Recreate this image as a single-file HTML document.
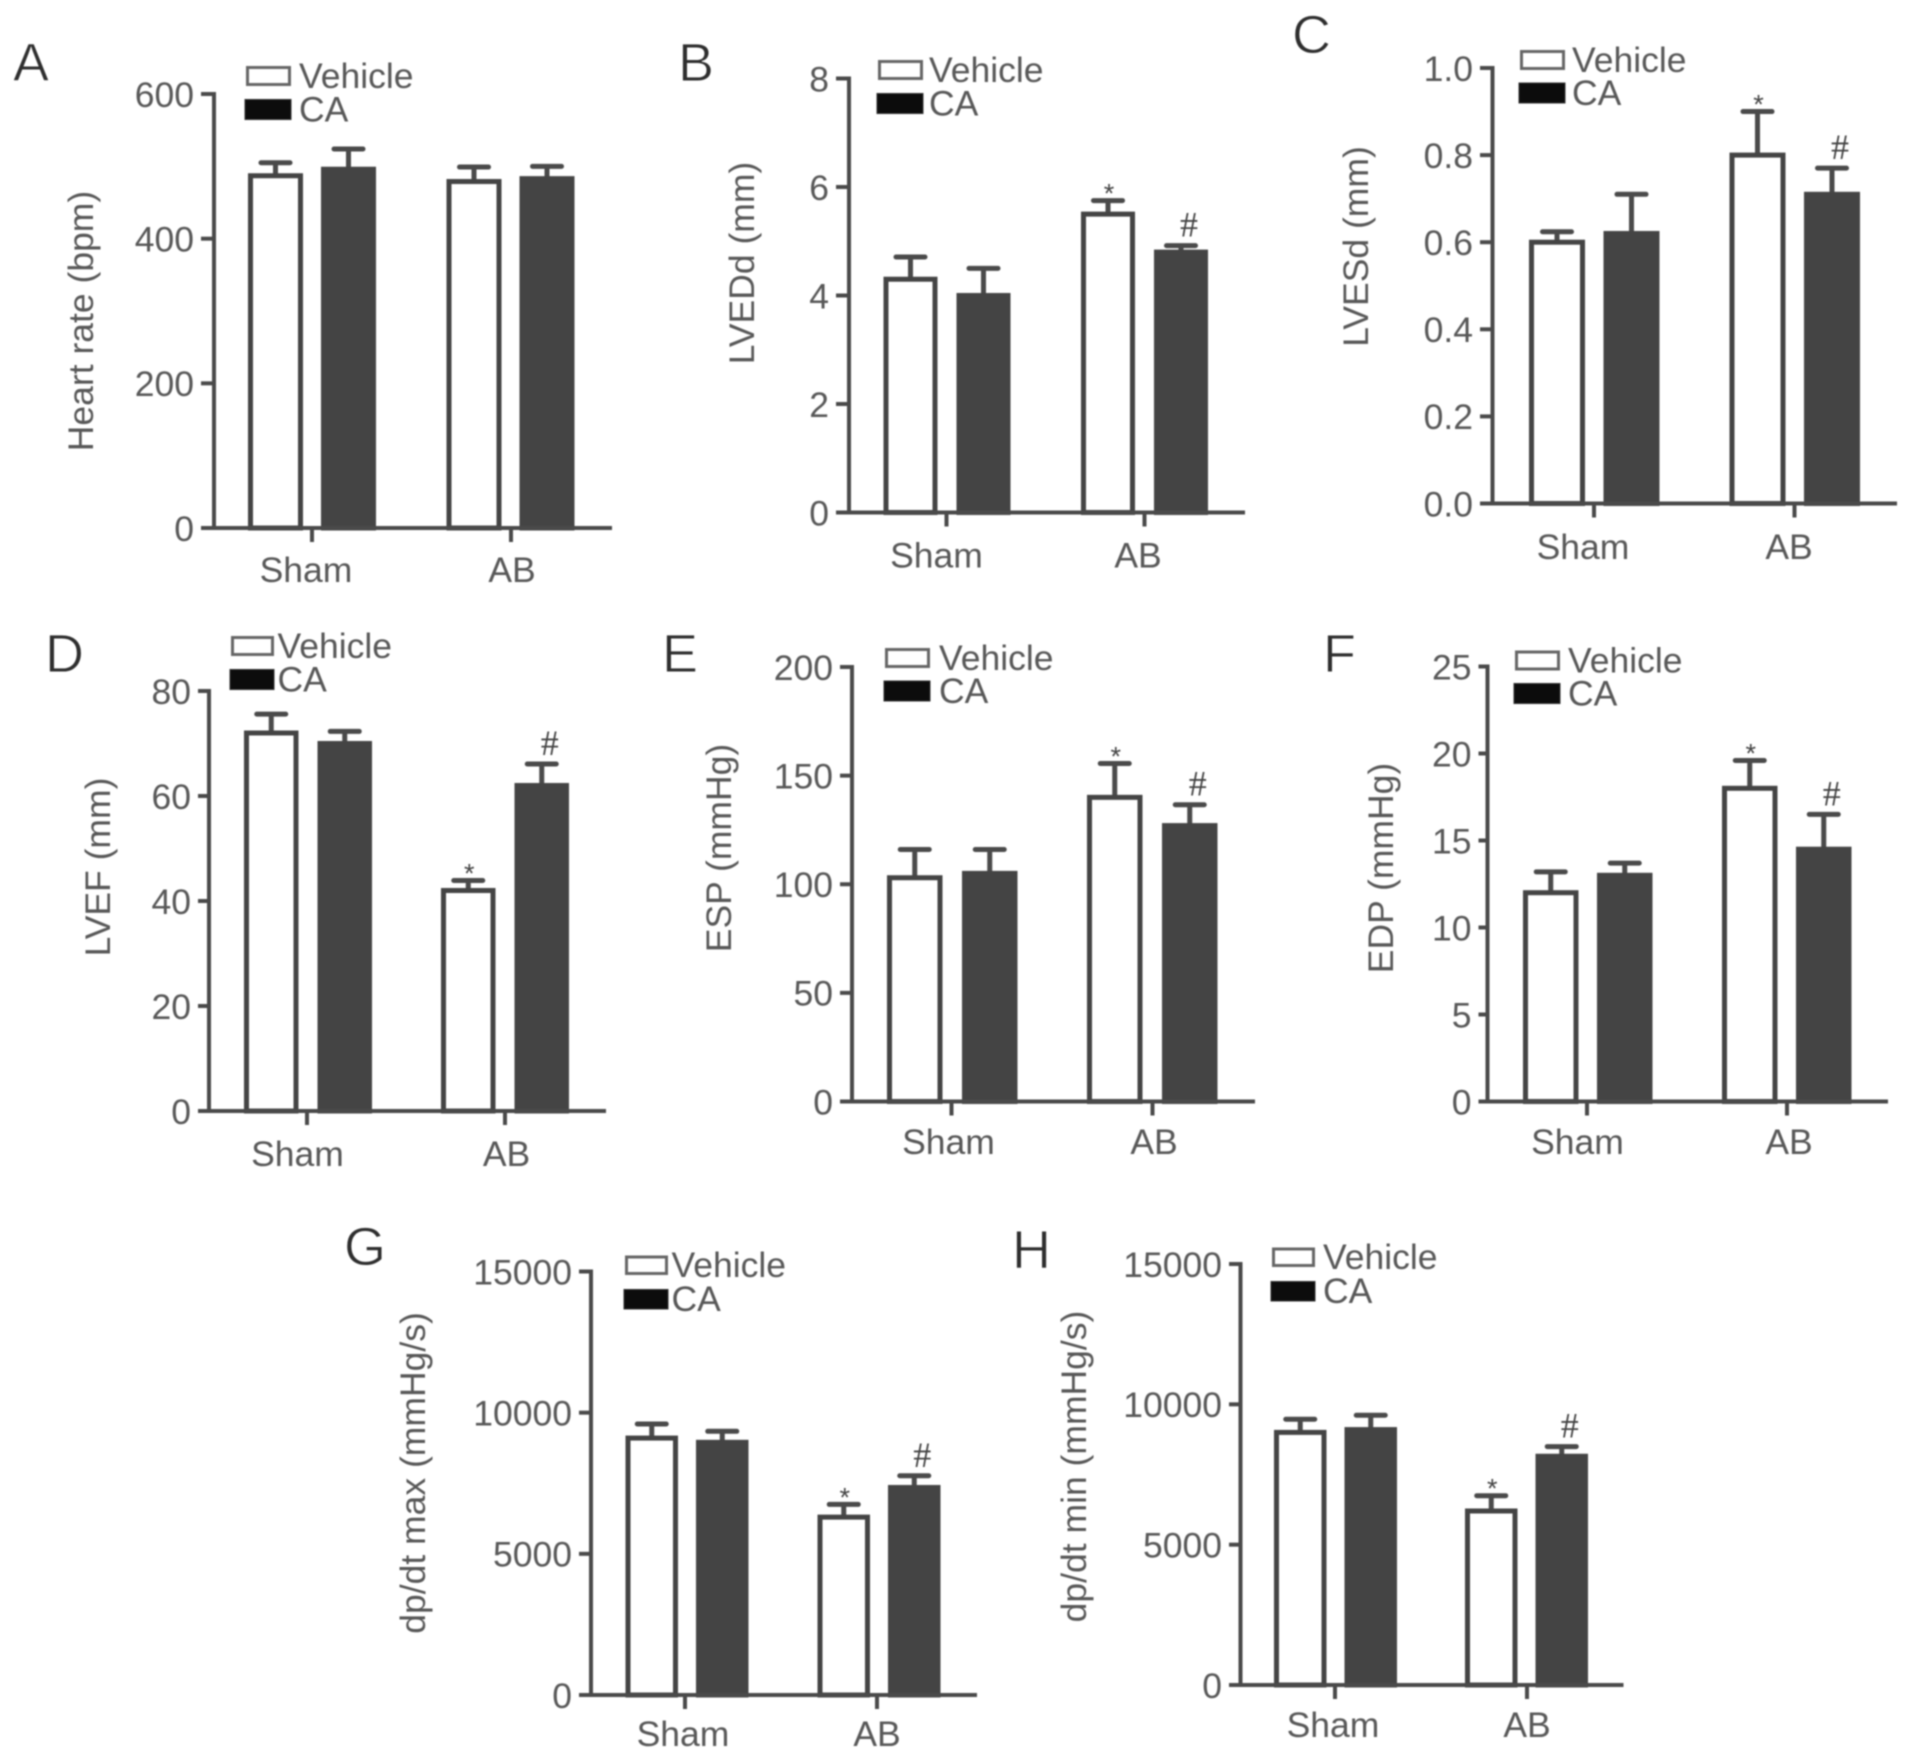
<!DOCTYPE html>
<html lang="en">
<head>
<meta charset="utf-8">
<title>Cardiac function bar charts</title>
<style>
html,body{margin:0;padding:0;background:#fff;}
svg{display:block;filter:blur(0.7px);}
text{font-family:"Liberation Sans",sans-serif;}
</style>
</head>
<body>
<svg id="figure" xmlns="http://www.w3.org/2000/svg" width="1913" height="1759" viewBox="0 0 1913 1759"></svg>
<script>
const categories = ['Sham', 'AB'];
const seriesNames = ['Vehicle', 'CA'];

const heartRateTicks = ['0', '200', '400', '600'];
const heartRateVehicle = [487, 479];
const heartRateCa = [496, 483];
const heartRateVehicleErr = [18, 20];
const heartRateCaErr = [28, 17];

const lveddTicks = ['0', '2', '4', '6', '8'];
const lveddVehicle = [4.3, 5.5];
const lveddCa = [4.0, 4.8];
const lveddVehicleErr = [0.41, 0.25];
const lveddCaErr = [0.5, 0.12];

const lvesdTicks = ['0.0', '0.2', '0.4', '0.6', '0.8', '1.0'];
const lvesdVehicle = [0.6, 0.8];
const lvesdCa = [0.62, 0.71];
const lvesdVehicleErr = [0.024, 0.1];
const lvesdCaErr = [0.09, 0.06];

const lvefTicks = ['0', '20', '40', '60', '80'];
const lvefVehicle = [72, 42];
const lvefCa = [70, 62];
const lvefVehicleErr = [3.6, 1.9];
const lvefCaErr = [2.3, 4.1];

const espTicks = ['0', '50', '100', '150', '200'];
const espVehicle = [103, 140];
const espCa = [105, 127];
const espVehicleErr = [13, 15.6];
const espCaErr = [11, 9.6];

const edpTicks = ['0', '5', '10', '15', '20', '25'];
const edpVehicle = [12, 18];
const edpCa = [13, 14.5];
const edpVehicleErr = [1.2, 1.6];
const edpCaErr = [0.7, 2];

const dpdtMaxTicks = ['0', '5000', '10000', '15000'];
const dpdtMaxVehicle = [9100, 6300];
const dpdtMaxCa = [8950, 7350];
const dpdtMaxVehicleErr = [500, 450];
const dpdtMaxCaErr = [390, 415];

const dpdtMinTicks = ['0', '5000', '10000', '15000'];
const dpdtMinVehicle = [9000, 6200];
const dpdtMinCa = [9100, 8150];
const dpdtMinVehicleErr = [470, 545];
const dpdtMinCaErr = [510, 345];

/* Layout only: frame geometry of each panel */
const panels = [
  {id:'a', letter:'A', title:'Heart rate (bpm)', ticks:heartRateTicks, v:heartRateVehicle, c:heartRateCa, vE:heartRateVehicleErr, cE:heartRateCaErr, marks:false,
   ax:214, top:94, base:528, left:201, right:612, first:248, step:198.5, bStep:73, bW:55, t0:312, tStep:199, labY:569, sham:306, ab:512, tx:80, ty:321,
   lx:246, ly1:66, ly2:99.5, lW:45, lH:20, lt:299, lX:13, lY:81},
  {id:'b', letter:'B', title:'LVEDd (mm)', ticks:lveddTicks, v:lveddVehicle, c:lveddCa, vE:lveddVehicleErr, cE:lveddCaErr, marks:true,
   ax:849, top:78.5, base:512.5, left:836, right:1245, first:883.5, step:197.5, bStep:73, bW:54, t0:946.5, tStep:198, labY:554.5, sham:936.5, ab:1138, tx:741, ty:263,
   lx:878, ly1:60, ly2:93.5, lW:45, lH:20, lt:929, lX:678, lY:81},
  {id:'c', letter:'C', title:'LVESd (mm)', ticks:lvesdTicks, v:lvesdVehicle, c:lvesdCa, vE:lvesdVehicleErr, cE:lvesdCaErr, marks:true,
   ax:1492.5, top:68, base:503.5, left:1480, right:1897, first:1529, step:200.5, bStep:74.5, bW:56, t0:1594, tStep:200.5, labY:546, sham:1583, ab:1789, tx:1355, ty:246.5,
   lx:1520, ly1:50, ly2:83, lW:45, lH:20, lt:1572, lX:1292, lY:53},
  {id:'d', letter:'D', title:'LVEF (mm)', ticks:lvefTicks, v:lvefVehicle, c:lvefCa, vE:lvefVehicleErr, cE:lvefCaErr, marks:true,
   ax:209, top:691, base:1111, left:198, right:606, first:244, step:197, bStep:73.5, bW:54.5, t0:307, tStep:198, labY:1153, sham:297.5, ab:506.5, tx:97, ty:867,
   lx:231, ly1:636, ly2:669.5, lW:43, lH:20, lt:277.5, lX:45, lY:672},
  {id:'e', letter:'E', title:'ESP (mmHg)', ticks:espTicks, v:espVehicle, c:espCa, vE:espVehicleErr, cE:espCaErr, marks:true,
   ax:852, top:667, base:1101.5, left:840, right:1255, first:887, step:200, bStep:75, bW:55.5, t0:951.5, tStep:201, labY:1141, sham:948.5, ab:1154, tx:718, ty:848,
   lx:885, ly1:648, ly2:681, lW:45, lH:20, lt:939, lX:662, lY:672},
  {id:'f', letter:'F', title:'EDP (mmHg)', ticks:edpTicks, v:edpVehicle, c:edpCa, vE:edpVehicleErr, cE:edpCaErr, marks:true,
   ax:1487.5, top:666.5, base:1101.5, left:1478.5, right:1888, first:1523, step:199, bStep:74, bW:55.5, t0:1587, tStep:200, labY:1141, sham:1577.5, ab:1789, tx:1380, ty:868,
   lx:1515, ly1:650.5, ly2:683.5, lW:45, lH:20, lt:1568, lX:1323, lY:672},
  {id:'g', letter:'G', title:'dp/dt max (mmHg/s)', ticks:dpdtMaxTicks, v:dpdtMaxVehicle, c:dpdtMaxCa, vE:dpdtMaxVehicleErr, cE:dpdtMaxCaErr, marks:true,
   ax:591, top:1271.5, base:1695, left:579, right:977, first:625.5, step:192, bStep:70.5, bW:52.5, t0:685, tStep:192, labY:1733, sham:683, ab:877, tx:412, ty:1473,
   lx:625, ly1:1255.5, ly2:1289.5, lW:43, lH:19.5, lt:671.5, lX:344, lY:1265},
  {id:'h', letter:'H', title:'dp/dt min (mmHg/s)', ticks:dpdtMinTicks, v:dpdtMinVehicle, c:dpdtMinCa, vE:dpdtMinVehicleErr, cE:dpdtMinCaErr, marks:true,
   ax:1240.5, top:1264, base:1685, left:1229, right:1623.5, first:1274, step:191, bStep:70.5, bW:52.5, t0:1335, tStep:192, labY:1724, sham:1333, ab:1527, tx:1073, ty:1466.5,
   lx:1272, ly1:1247.5, ly2:1281.5, lW:43, lH:19.5, lt:1323, lX:1012, lY:1268}
];

const NS = 'http://www.w3.org/2000/svg';
const AXIS_COLOR = '#4a4a4a';
const TEXT_COLOR = '#585858';
const BAR_COLOR = '#444444';
const FONT_SIZE = 35.5;

function make(parent, tag, attrs, content) {
  const el = document.createElementNS(NS, tag);
  Object.keys(attrs).forEach(function (k) { el.setAttribute(k, attrs[k]); });
  if (content !== undefined) el.textContent = content;
  parent.appendChild(el);
  return el;
}

function labelAttrs(x, y, anchor) {
  return {x: x, y: y + FONT_SIZE * 0.36, 'text-anchor': anchor, 'font-size': FONT_SIZE, fill: TEXT_COLOR};
}

const figure = document.getElementById('figure');

panels.forEach(function (p) {
  const maxValue = Number(p.ticks[p.ticks.length - 1]);
  const yScale = function (value) { return p.base - (value / maxValue) * (p.base - p.top); };
  const xScale = function (catIndex, seriesIndex) { return p.first + catIndex * p.step + seriesIndex * p.bStep; };

  const g = make(figure, 'g', {});
  
  

  const letter = make(g, 'text', {x: p.lX, y: p.lY, 'font-size': 54, fill: '#2e2e2e', stroke: '#fff', 'stroke-width': 0.9}, p.letter);
  
  

  const yTitle = make(g, 'text', {x: 0, y: 0, 'text-anchor': 'middle', 'font-size': FONT_SIZE, fill: TEXT_COLOR,
    transform: 'translate(' + (p.tx + FONT_SIZE * 0.36) + ',' + p.ty + ') rotate(-90)'}, p.title);
  
  

  [p.v, p.c].forEach(function (series, s) {
    const errs = s === 0 ? p.vE : p.cE;
    series.forEach(function (value, i) {
      const x = xScale(i, s);
      const cx = x + p.bW / 2;
      const yTopBar = yScale(value);
      const yErr = yScale(value + errs[i]);

      const errLine = make(g, 'line', {x1: cx, x2: cx, y1: yTopBar, y2: yErr, stroke: AXIS_COLOR, 'stroke-width': 5});
      
      

      const errCap = make(g, 'line', {x1: cx - 14.5, x2: cx + 14.5, y1: yErr, y2: yErr, stroke: AXIS_COLOR, 'stroke-width': 5, 'stroke-linecap': 'round'});
      
      

      const bar = make(g, 'rect', {x: x + 2.5, y: yTopBar, width: p.bW - 5, height: p.base - yTopBar,
        fill: s === 0 ? '#ffffff' : BAR_COLOR, stroke: BAR_COLOR, 'stroke-width': 5});
      
      

      if (p.marks && i === 1) {
        if (s === 0) {
          const star = make(g, 'text', {x: cx + 1, y: yErr + 2, 'text-anchor': 'middle', 'font-size': 27, fill: BAR_COLOR}, '*');
          
          
        } else {
          const hash = make(g, 'text', {x: cx + 8, y: yErr - 9, 'text-anchor': 'middle', 'font-size': 36, fill: BAR_COLOR,
            style: 'font-family:"Liberation Serif",serif'}, '#');
          
          
        }
      }
    });
  });

  const yAxis = make(g, 'line', {x1: p.ax, x2: p.ax, y1: p.top - 2, y2: p.base + 2, stroke: AXIS_COLOR, 'stroke-width': 4});
  
  

  const xAxis = make(g, 'line', {x1: p.left, x2: p.right, y1: p.base, y2: p.base, stroke: AXIS_COLOR, 'stroke-width': 4});
  
  

  p.ticks.forEach(function (label) {
    const y = yScale(Number(label));
    const tick = make(g, 'line', {x1: p.left, x2: p.ax, y1: y, y2: y, stroke: AXIS_COLOR, 'stroke-width': 4});
    
    

    const tickLabel = make(g, 'text', labelAttrs(p.left - 7, y, 'end'), label);
    
    
  });

  categories.forEach(function (name, i) {
    const tx = p.t0 + i * p.tStep;
    const tick = make(g, 'line', {x1: tx, x2: tx, y1: p.base, y2: p.base + 14, stroke: AXIS_COLOR, 'stroke-width': 4});
    
    

    const catLabel = make(g, 'text', labelAttrs(i === 0 ? p.sham : p.ab, p.labY, 'middle'), name);
    
    
  });

  seriesNames.forEach(function (name, s) {
    const ly = s === 0 ? p.ly1 : p.ly2;
    const swatch = make(g, 'rect', s === 0
      ? {x: p.lx + 1.5, y: ly + 1.5, width: p.lW - 3, height: p.lH - 3, fill: '#ffffff', stroke: '#666666', 'stroke-width': 3}
      : {x: p.lx - 1, y: ly, width: p.lW + 1, height: p.lH, fill: '#0c0c0c', stroke: '#333333', 'stroke-width': 1});
    
    

    const legendText = make(g, 'text', labelAttrs(p.lt, ly + p.lH / 2 - 1, 'start'), name);
    
    
  });
});
</script>
</body>
</html>
